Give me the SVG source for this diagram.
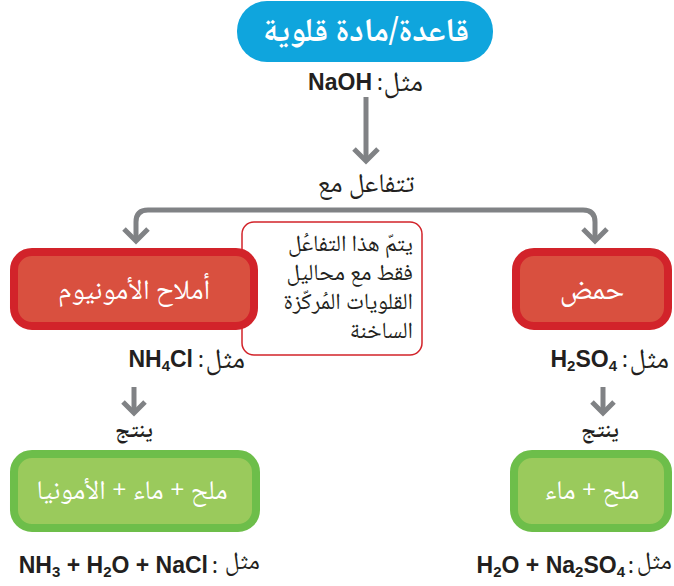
<svg xmlns="http://www.w3.org/2000/svg" width="674" height="586" viewBox="0 0 674 586">
<defs>
<style>
.ar{font-family:"Noto Naskh Arabic","Noto Sans Arabic","DejaVu Sans","Noto Sans",sans-serif;fill:#231F20;}
.arw{font-family:"Noto Naskh Arabic","Noto Sans Arabic","DejaVu Sans","Noto Sans",sans-serif;fill:#FFFFFF;}
.f{font-family:"Liberation Sans",Arial,sans-serif;font-weight:bold;fill:#231F20;font-size:23px;}
.sub{font-size:15px;}
.conn{fill:none;stroke:#808285;stroke-width:5;}
.red{fill:#D9503F;stroke:#D2232A;stroke-width:8;}
.green{fill:#9ACA5C;stroke:#6DBE4A;stroke-width:8;}
</style>
</defs>
<rect width="674" height="586" fill="#FFFFFF"/>

<g id="connectors">
<path class="conn" d="M366 97 V161"/>
<polyline class="conn" points="354,149 366,161 378,149"/>
<path class="conn" d="M136 241 V222 Q136 210 148 210 H583 Q595 210 595 222 V241"/>
<polyline class="conn" points="124,229 136,241 148,229"/>
<polyline class="conn" points="583,229 595,241 607,229"/>
<path class="conn" d="M134 387 V413"/>
<polyline class="conn" points="123,402 134,413 145,402"/>
<path class="conn" d="M603 387 V413"/>
<polyline class="conn" points="592,402 603,413 614,402"/>
</g>

<g id="base">
<rect x="237" y="1" width="256" height="61" rx="30" fill="#0FA5DD"/>
<text class="arw" x="366" y="41" font-size="33" font-weight="bold" text-anchor="middle">قاعدة/مادة قلوية</text>
</g>
<g id="base-example">
<text class="f" x="372" y="90" text-anchor="end">NaOH</text>
<text class="ar" x="380" y="90" font-size="22" text-anchor="middle">:</text>
<text class="ar" x="423" y="91" font-size="28" text-anchor="end">مثل</text>
</g>
<g id="reacts-with">
<text class="ar" x="366" y="192" font-size="27" text-anchor="middle">تتفاعل مع</text>
</g>

<g id="note">
<rect x="242" y="222" width="180" height="133" rx="12" fill="#FFFFFF" stroke="#D2232A" stroke-width="1.5"/>
<text class="ar" font-size="23" text-anchor="end"><tspan x="413" y="251">يتمّ هذا التفاعُل</tspan><tspan x="413" y="280">فقط مع محاليل</tspan><tspan x="413" y="309">القلويات المُركّزة</tspan><tspan x="413" y="338">الساخنة</tspan></text>
</g>

<g id="ammonium-salts">
<rect class="red" x="14" y="252" width="240" height="74" rx="18"/>
<text class="arw" x="134" y="299" font-size="28" text-anchor="middle">أملاح الأمونيوم</text>
</g>
<g id="ammonium-example">
<text class="f" x="193" y="367" text-anchor="end">NH<tspan class="sub" dy="4">4</tspan><tspan dy="-4">Cl</tspan></text>
<text class="ar" x="201" y="367" font-size="22" text-anchor="middle">:</text>
<text class="ar" x="245" y="368" font-size="28" text-anchor="end">مثل</text>
</g>

<g id="acid">
<rect class="red" x="516" y="252" width="152" height="74" rx="18"/>
<text class="arw" x="592" y="299" font-size="30" text-anchor="middle">حمض</text>
</g>
<g id="acid-example">
<text class="f" x="617" y="367" text-anchor="end">H<tspan class="sub" dy="4">2</tspan><tspan dy="-4">SO</tspan><tspan class="sub" dy="4">4</tspan></text>
<text class="ar" x="625" y="367" font-size="22" text-anchor="middle">:</text>
<text class="ar" x="669" y="368" font-size="28" text-anchor="end">مثل</text>
</g>

<g id="produces-left">
<text class="ar" x="134" y="437" font-size="22" font-weight="bold" text-anchor="middle">ينتج</text>
</g>
<g id="produces-right">
<text class="ar" x="600" y="437" font-size="22" font-weight="bold" text-anchor="middle">ينتج</text>
</g>

<g id="salt-water-ammonia">
<rect class="green" x="14" y="454" width="242" height="74" rx="18"/>
<text class="arw" x="132" y="499" font-size="27" text-anchor="middle">ملح + ماء + الأمونيا</text>
</g>
<g id="salt-water-ammonia-example">
<text class="f" x="208" y="573" text-anchor="end">NH<tspan class="sub" dy="4">3</tspan><tspan dy="-4"> + H</tspan><tspan class="sub" dy="4">2</tspan><tspan dy="-4">O + NaCl</tspan></text>
<text class="ar" x="215" y="573" font-size="22" text-anchor="middle">:</text>
<text class="ar" x="260" y="569" font-size="25" text-anchor="end">مثل</text>
</g>

<g id="salt-water">
<rect class="green" x="514" y="454" width="154" height="74" rx="18"/>
<text class="arw" x="592" y="499" font-size="27" text-anchor="middle">ملح + ماء</text>
</g>
<g id="salt-water-example">
<text class="f" x="625" y="573" text-anchor="end">H<tspan class="sub" dy="4">2</tspan><tspan dy="-4">O + Na</tspan><tspan class="sub" dy="4">2</tspan><tspan dy="-4">SO</tspan><tspan class="sub" dy="4">4</tspan></text>
<text class="ar" x="631" y="573" font-size="22" text-anchor="middle">:</text>
<text class="ar" x="672" y="569" font-size="25" text-anchor="end">مثل</text>
</g>
</svg>
